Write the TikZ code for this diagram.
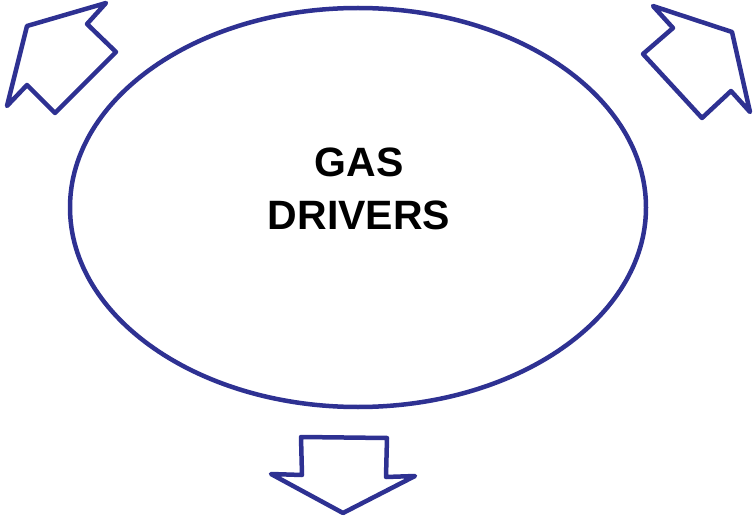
\documentclass[tikz,border=0pt]{standalone}
\usepackage{fontspec}
\setmainfont{Liberation Sans}
\definecolor{navy}{RGB}{46,49,146}
\begin{document}
\begin{tikzpicture}[x=1pt,y=-1pt,
  outline/.style={draw=navy,line width=4.5pt,line join=round,line cap=round},
  label/.style={font=\bfseries\fontsize{41}{53}\selectfont,align=center,inner sep=0pt,text=black}]
\useasboundingbox (0,0) rectangle (753,516);
\coordinate (ell) at (358,207.5);
\draw[outline] (ell) ellipse [x radius=288pt, y radius=199.5pt];
\node[label] (txt) at (359,188.8) {GAS\\DRIVERS};
% up-left arrow
\draw[outline] (106,3) -- (87,24) -- (116,52) -- (55,113) -- (27,85) -- (7,106) -- (27,26) -- cycle;
% up-right arrow
\draw[outline] (653,6) -- (673,28) -- (643,54) -- (702,118) -- (731,91) -- (750,112) -- (732,32) -- cycle;
% down arrow
\draw[outline] (301,437) -- (387,438) -- (386,477) -- (415,476) -- (343,513) -- (271,474) -- (302,475) -- cycle;
\end{tikzpicture}
\end{document}
